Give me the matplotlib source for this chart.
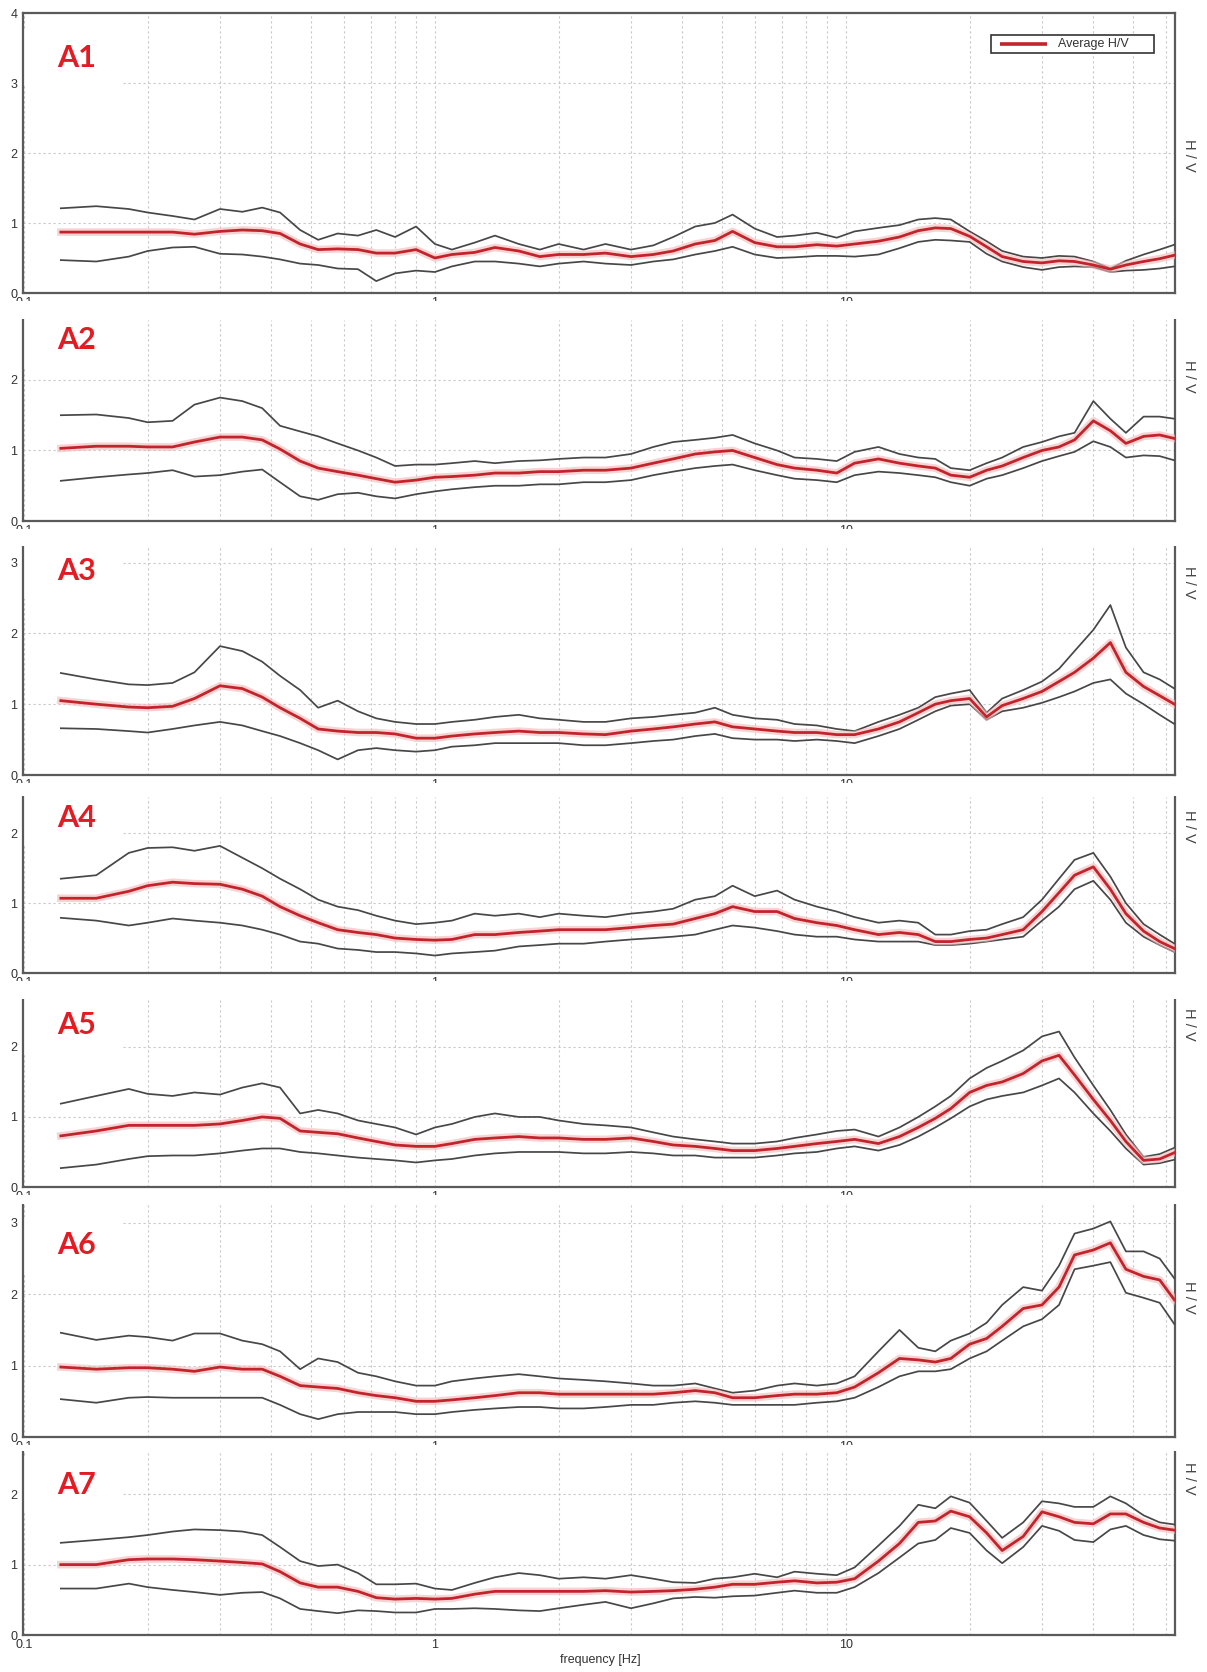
import matplotlib
matplotlib.use('Agg')
import matplotlib.pyplot as plt
from matplotlib.patches import Rectangle

plt.rcParams['font.family'] = ['Liberation Sans', 'DejaVu Sans']

# frequency nodes [Hz] shared by every station curve
freq = [0.123, 0.15, 0.18, 0.2, 0.23, 0.26, 0.3, 0.34, 0.38, 0.42,
        0.47, 0.52, 0.58, 0.65, 0.72, 0.8, 0.9, 1.0, 1.1, 1.25,
        1.4, 1.6, 1.8, 2.0, 2.3, 2.6, 3.0, 3.4, 3.8, 4.3,
        4.8, 5.3, 6.0, 6.8, 7.5, 8.5, 9.5, 10.5, 12, 13.5,
        15, 16.5, 18, 20, 22, 24, 27, 30, 33, 36,
        40, 44, 48, 53, 58, 63]

# A1
a1_mean = [0.87, 0.87, 0.87, 0.87, 0.87, 0.84, 0.88, 0.90, 0.89, 0.85,
           0.70, 0.62, 0.63, 0.62, 0.57, 0.57, 0.62, 0.50, 0.55, 0.58,
           0.65, 0.60, 0.52, 0.55, 0.55, 0.57, 0.52, 0.55, 0.60, 0.70,
           0.75, 0.88, 0.72, 0.66, 0.66, 0.69, 0.67, 0.70, 0.74, 0.80,
           0.89, 0.93, 0.92, 0.81, 0.66, 0.52, 0.45, 0.43, 0.46, 0.45,
           0.40, 0.34, 0.40, 0.45, 0.49, 0.54]
a1_upper = [1.21, 1.24, 1.20, 1.15, 1.10, 1.05, 1.20, 1.16, 1.22, 1.15,
            0.90, 0.76, 0.85, 0.82, 0.90, 0.80, 0.95, 0.70, 0.62, 0.72,
            0.82, 0.70, 0.62, 0.70, 0.62, 0.70, 0.62, 0.68, 0.80, 0.95,
            1.00, 1.12, 0.92, 0.80, 0.82, 0.86, 0.79, 0.88, 0.93, 0.97,
            1.05, 1.07, 1.05, 0.88, 0.74, 0.60, 0.52, 0.50, 0.53, 0.52,
            0.45, 0.35, 0.46, 0.55, 0.62, 0.69]
a1_lower = [0.47, 0.45, 0.52, 0.60, 0.65, 0.66, 0.56, 0.55, 0.52, 0.48,
            0.42, 0.40, 0.35, 0.34, 0.17, 0.28, 0.32, 0.30, 0.38, 0.45,
            0.45, 0.42, 0.38, 0.42, 0.45, 0.42, 0.40, 0.45, 0.48, 0.55,
            0.60, 0.66, 0.55, 0.50, 0.51, 0.53, 0.53, 0.52, 0.55, 0.64,
            0.73, 0.76, 0.75, 0.73, 0.56, 0.45, 0.37, 0.33, 0.37, 0.38,
            0.37, 0.30, 0.32, 0.33, 0.35, 0.38]

# A2
a2_mean = [1.03, 1.06, 1.06, 1.05, 1.05, 1.12, 1.19, 1.19, 1.15, 1.02,
           0.85, 0.75, 0.70, 0.65, 0.60, 0.55, 0.58, 0.62, 0.63, 0.65,
           0.68, 0.68, 0.70, 0.70, 0.72, 0.72, 0.75, 0.82, 0.88, 0.95,
           0.98, 1.00, 0.90, 0.80, 0.75, 0.72, 0.68, 0.82, 0.88, 0.82,
           0.78, 0.75, 0.65, 0.62, 0.72, 0.78, 0.90, 1.00, 1.05, 1.15,
           1.42, 1.28, 1.10, 1.20, 1.22, 1.17]
a2_upper = [1.50, 1.51, 1.46, 1.40, 1.42, 1.65, 1.75, 1.70, 1.60, 1.35,
            1.27, 1.20, 1.10, 1.00, 0.90, 0.78, 0.80, 0.80, 0.82, 0.85,
            0.82, 0.85, 0.86, 0.88, 0.90, 0.90, 0.95, 1.05, 1.12, 1.15,
            1.18, 1.22, 1.10, 1.00, 0.90, 0.88, 0.85, 0.98, 1.05, 0.95,
            0.90, 0.88, 0.75, 0.72, 0.82, 0.90, 1.05, 1.12, 1.20, 1.25,
            1.70, 1.45, 1.25, 1.48, 1.48, 1.45]
a2_lower = [0.57, 0.62, 0.66, 0.68, 0.72, 0.63, 0.65, 0.70, 0.73, 0.55,
            0.35, 0.30, 0.38, 0.40, 0.35, 0.32, 0.38, 0.42, 0.45, 0.48,
            0.50, 0.50, 0.52, 0.52, 0.55, 0.55, 0.58, 0.65, 0.70, 0.75,
            0.78, 0.80, 0.72, 0.65, 0.60, 0.58, 0.55, 0.65, 0.70, 0.68,
            0.65, 0.62, 0.55, 0.50, 0.60, 0.65, 0.75, 0.85, 0.92, 0.98,
            1.13, 1.05, 0.90, 0.93, 0.92, 0.86]

# A3
a3_mean = [1.05, 1.00, 0.96, 0.95, 0.97, 1.08, 1.26, 1.22, 1.10, 0.95,
           0.80, 0.65, 0.62, 0.60, 0.60, 0.58, 0.52, 0.52, 0.55, 0.58,
           0.60, 0.62, 0.60, 0.60, 0.58, 0.57, 0.62, 0.65, 0.68, 0.72,
           0.75, 0.68, 0.65, 0.62, 0.60, 0.60, 0.57, 0.57, 0.65, 0.75,
           0.88, 1.00, 1.05, 1.08, 0.82, 0.98, 1.08, 1.18, 1.32, 1.45,
           1.65, 1.87, 1.45, 1.25, 1.12, 1.00]
a3_upper = [1.44, 1.35, 1.28, 1.27, 1.30, 1.45, 1.82, 1.75, 1.60, 1.40,
            1.20, 0.95, 1.05, 0.90, 0.80, 0.75, 0.72, 0.72, 0.75, 0.78,
            0.82, 0.85, 0.80, 0.78, 0.75, 0.75, 0.80, 0.82, 0.85, 0.88,
            0.95, 0.85, 0.80, 0.78, 0.72, 0.70, 0.65, 0.62, 0.75, 0.85,
            0.95, 1.10, 1.15, 1.20, 0.88, 1.08, 1.20, 1.32, 1.50, 1.75,
            2.05, 2.40, 1.80, 1.45, 1.35, 1.22]
a3_lower = [0.66, 0.65, 0.62, 0.60, 0.65, 0.70, 0.75, 0.70, 0.62, 0.55,
            0.45, 0.35, 0.22, 0.35, 0.38, 0.35, 0.33, 0.35, 0.40, 0.42,
            0.45, 0.45, 0.45, 0.45, 0.42, 0.42, 0.45, 0.48, 0.50, 0.55,
            0.58, 0.52, 0.50, 0.50, 0.48, 0.50, 0.48, 0.45, 0.55, 0.65,
            0.78, 0.90, 0.98, 1.00, 0.78, 0.90, 0.95, 1.02, 1.10, 1.18,
            1.30, 1.35, 1.15, 1.00, 0.85, 0.72]

# A4
a4_mean = [1.07, 1.07, 1.17, 1.25, 1.30, 1.28, 1.27, 1.20, 1.10, 0.95,
           0.82, 0.72, 0.62, 0.58, 0.55, 0.50, 0.48, 0.47, 0.48, 0.55,
           0.55, 0.58, 0.60, 0.62, 0.62, 0.62, 0.65, 0.68, 0.70, 0.78,
           0.85, 0.95, 0.88, 0.88, 0.78, 0.72, 0.68, 0.62, 0.55, 0.58,
           0.55, 0.45, 0.45, 0.48, 0.50, 0.55, 0.62, 0.88, 1.15, 1.40,
           1.52, 1.20, 0.85, 0.60, 0.45, 0.35]
a4_upper = [1.35, 1.40, 1.72, 1.79, 1.80, 1.75, 1.82, 1.65, 1.50, 1.35,
            1.20, 1.05, 0.95, 0.90, 0.82, 0.75, 0.70, 0.72, 0.75, 0.85,
            0.82, 0.85, 0.80, 0.85, 0.82, 0.80, 0.85, 0.88, 0.92, 1.05,
            1.10, 1.25, 1.10, 1.18, 1.05, 0.95, 0.88, 0.80, 0.72, 0.75,
            0.72, 0.55, 0.55, 0.60, 0.62, 0.70, 0.80, 1.05, 1.35, 1.62,
            1.72, 1.38, 1.00, 0.70, 0.55, 0.42]
a4_lower = [0.79, 0.75, 0.68, 0.72, 0.78, 0.75, 0.72, 0.68, 0.62, 0.55,
            0.45, 0.42, 0.35, 0.33, 0.30, 0.30, 0.28, 0.25, 0.28, 0.30,
            0.32, 0.38, 0.40, 0.42, 0.42, 0.45, 0.48, 0.50, 0.52, 0.55,
            0.62, 0.68, 0.65, 0.60, 0.55, 0.52, 0.52, 0.48, 0.45, 0.45,
            0.45, 0.40, 0.40, 0.42, 0.45, 0.48, 0.52, 0.75, 0.95, 1.20,
            1.32, 1.05, 0.72, 0.52, 0.40, 0.30]

# A5
a5_mean = [0.73, 0.80, 0.88, 0.88, 0.88, 0.88, 0.90, 0.95, 1.00, 0.98,
           0.80, 0.78, 0.76, 0.70, 0.65, 0.60, 0.58, 0.58, 0.62, 0.68,
           0.70, 0.72, 0.70, 0.70, 0.68, 0.68, 0.70, 0.65, 0.60, 0.58,
           0.55, 0.52, 0.52, 0.55, 0.58, 0.62, 0.65, 0.68, 0.62, 0.72,
           0.85, 0.98, 1.12, 1.35, 1.45, 1.50, 1.62, 1.80, 1.88, 1.60,
           1.25, 0.95, 0.65, 0.38, 0.40, 0.49]
a5_upper = [1.19, 1.30, 1.40, 1.33, 1.30, 1.35, 1.32, 1.42, 1.48, 1.42,
            1.05, 1.10, 1.05, 0.95, 0.90, 0.85, 0.75, 0.85, 0.90, 1.00,
            1.05, 1.00, 1.00, 0.95, 0.90, 0.88, 0.85, 0.78, 0.72, 0.68,
            0.65, 0.62, 0.62, 0.65, 0.70, 0.75, 0.80, 0.82, 0.72, 0.85,
            1.00, 1.15, 1.30, 1.55, 1.70, 1.80, 1.95, 2.15, 2.22, 1.85,
            1.45, 1.10, 0.75, 0.43, 0.47, 0.56]
a5_lower = [0.27, 0.32, 0.40, 0.44, 0.45, 0.45, 0.48, 0.52, 0.55, 0.55,
            0.50, 0.48, 0.45, 0.42, 0.40, 0.38, 0.35, 0.38, 0.40, 0.45,
            0.48, 0.50, 0.50, 0.50, 0.48, 0.48, 0.50, 0.48, 0.45, 0.45,
            0.42, 0.42, 0.42, 0.45, 0.48, 0.50, 0.55, 0.58, 0.52, 0.60,
            0.72, 0.85, 0.98, 1.15, 1.25, 1.30, 1.35, 1.45, 1.55, 1.35,
            1.05, 0.80, 0.55, 0.32, 0.34, 0.39]

# A6
a6_mean = [0.98, 0.95, 0.97, 0.97, 0.95, 0.92, 0.98, 0.95, 0.95, 0.85,
           0.72, 0.70, 0.68, 0.62, 0.58, 0.55, 0.50, 0.50, 0.52, 0.55,
           0.58, 0.62, 0.62, 0.60, 0.60, 0.60, 0.60, 0.60, 0.62, 0.65,
           0.62, 0.55, 0.55, 0.58, 0.60, 0.60, 0.62, 0.70, 0.90, 1.10,
           1.08, 1.05, 1.10, 1.30, 1.38, 1.55, 1.80, 1.85, 2.10, 2.55,
           2.62, 2.72, 2.35, 2.25, 2.20, 1.92]
a6_upper = [1.46, 1.36, 1.42, 1.40, 1.35, 1.45, 1.45, 1.35, 1.30, 1.20,
            0.95, 1.10, 1.05, 0.90, 0.85, 0.78, 0.72, 0.72, 0.78, 0.82,
            0.85, 0.88, 0.85, 0.82, 0.80, 0.78, 0.75, 0.72, 0.72, 0.75,
            0.68, 0.62, 0.65, 0.72, 0.75, 0.72, 0.75, 0.85, 1.20, 1.50,
            1.25, 1.20, 1.35, 1.45, 1.60, 1.85, 2.10, 2.05, 2.40, 2.85,
            2.92, 3.02, 2.60, 2.60, 2.50, 2.22]
a6_lower = [0.53, 0.48, 0.55, 0.56, 0.55, 0.55, 0.55, 0.55, 0.55, 0.45,
            0.32, 0.25, 0.32, 0.35, 0.35, 0.35, 0.32, 0.32, 0.35, 0.38,
            0.40, 0.42, 0.42, 0.40, 0.40, 0.42, 0.45, 0.45, 0.48, 0.50,
            0.48, 0.45, 0.45, 0.45, 0.45, 0.48, 0.50, 0.55, 0.70, 0.85,
            0.92, 0.92, 0.95, 1.10, 1.20, 1.35, 1.55, 1.65, 1.85, 2.35,
            2.40, 2.45, 2.02, 1.95, 1.88, 1.58]

# A7
a7_mean = [1.00, 1.00, 1.07, 1.08, 1.08, 1.07, 1.05, 1.03, 1.01, 0.90,
           0.74, 0.68, 0.68, 0.62, 0.53, 0.51, 0.52, 0.51, 0.52, 0.58,
           0.62, 0.62, 0.62, 0.62, 0.62, 0.63, 0.61, 0.62, 0.63, 0.65,
           0.68, 0.72, 0.72, 0.75, 0.77, 0.74, 0.75, 0.80, 1.05, 1.30,
           1.60, 1.62, 1.76, 1.68, 1.45, 1.20, 1.40, 1.75, 1.68, 1.60,
           1.58, 1.72, 1.72, 1.60, 1.52, 1.49]
a7_upper = [1.31, 1.35, 1.39, 1.42, 1.47, 1.50, 1.49, 1.47, 1.42, 1.25,
            1.05, 0.98, 1.00, 0.88, 0.72, 0.72, 0.73, 0.66, 0.64, 0.74,
            0.82, 0.88, 0.85, 0.80, 0.82, 0.80, 0.85, 0.80, 0.75, 0.74,
            0.80, 0.82, 0.87, 0.82, 0.90, 0.87, 0.85, 0.96, 1.27, 1.55,
            1.85, 1.80, 1.97, 1.88, 1.62, 1.38, 1.60, 1.90, 1.87, 1.82,
            1.82, 1.97, 1.87, 1.70, 1.60, 1.57]
a7_lower = [0.66, 0.66, 0.73, 0.68, 0.64, 0.61, 0.57, 0.60, 0.61, 0.52,
            0.37, 0.34, 0.31, 0.35, 0.34, 0.32, 0.32, 0.37, 0.37, 0.38,
            0.37, 0.35, 0.34, 0.38, 0.43, 0.47, 0.38, 0.45, 0.52, 0.54,
            0.53, 0.55, 0.56, 0.60, 0.63, 0.60, 0.60, 0.68, 0.88, 1.10,
            1.30, 1.35, 1.52, 1.45, 1.20, 1.02, 1.25, 1.55, 1.48, 1.35,
            1.32, 1.50, 1.55, 1.42, 1.36, 1.34]

stations = ['A1', 'A2', 'A3', 'A4', 'A5', 'A6', 'A7']
means = [a1_mean, a2_mean, a3_mean, a4_mean, a5_mean, a6_mean, a7_mean]
uppers = [a1_upper, a2_upper, a3_upper, a4_upper, a5_upper, a6_upper, a7_upper]
lowers = [a1_lower, a2_lower, a3_lower, a4_lower, a5_lower, a6_lower, a7_lower]
y_tops = [4.0, 2.85, 3.22, 2.52, 2.67, 3.25, 2.6]

# panel placement in pixels (top, bottom), station label and H/V label heights
W, H = 1207, 1672
LEFT, RIGHT = 23, 1175
panel_px = [(13, 293), (320, 521), (547, 775), (797, 973),
            (1000, 1187), (1205, 1437), (1452, 1635)]
name_y = [58, 340, 571, 818, 1025, 1245, 1485]
hv_y = [155, 376, 582, 826, 1024, 1297, 1478]

RED = '#c3242c'
GREY = '#474747'
SPINE = '#5a5a5a'

fig = plt.figure(figsize=(W / 100, H / 100), dpi=100)

for i, name in enumerate(stations):
    top, bot = panel_px[i]
    hgt = bot - top
    ax = fig.add_axes([LEFT / W, 1 - bot / H, (RIGHT - LEFT) / W, hgt / H])
    ax.set_xscale('log')
    ax.set_xlim(0.0995, 63.2)
    ax.set_ylim(0, y_tops[i])
    ax.set_yticks(range(0, int(y_tops[i]) + 1))
    ax.set_xticks([0.1, 1, 10])
    ax.set_xticklabels(['0.1', '1', '10'])
    ax.tick_params(which='both', length=0, labelsize=9, colors='#333333', pad=3)
    ax.tick_params(axis='y', pad=4)
    ax.grid(which='both', axis='x', color='#c8c8c8', lw=0.8, ls=(0, (2, 2.5)))
    ax.grid(which='major', axis='y', color='#c8c8c8', lw=0.8, ls=(0, (2, 2.5)))

    for side in ['left', 'right', 'bottom', 'top']:
        ax.spines[side].set_color(SPINE)
        ax.spines[side].set_linewidth(1.6)
    if i > 0:
        ax.spines['top'].set_visible(False)

    # white block behind the station name
    ax.add_patch(Rectangle((0, (bot - name_y[i] - 28) / hgt), 100 / (RIGHT - LEFT), 56 / hgt,
                           transform=ax.transAxes, facecolor='white', edgecolor='none',
                           zorder=1.8, clip_on=True))

    ax.plot(freq, uppers[i], color=GREY, lw=1.25, zorder=3)
    ax.plot(freq, lowers[i], color=GREY, lw=1.25, zorder=3)
    ax.plot(freq, means[i], color='#f3b8b8', lw=5.5, alpha=0.6, zorder=3.5,
            solid_joinstyle='round')
    ax.plot(freq, means[i], color=RED, lw=2.0, zorder=4)

    ax.text((57 - LEFT) / (RIGHT - LEFT), (bot - name_y[i]) / hgt, name,
            transform=ax.transAxes, ha='left', va='center', fontsize=22,
            fontweight='bold', family=['Lato', 'DejaVu Sans'], color='#e31b23', zorder=5)

    fig.text(1189 / W, 1 - hv_y[i] / H, 'H / V', rotation=-90, ha='center', va='center',
             fontsize=10.5, color='#444444')

    if i == 0:
        # legend box
        w = RIGHT - LEFT
        ax.add_patch(Rectangle(((991 - LEFT) / w, (bot - 53) / hgt), 163 / w, 18 / hgt,
                               transform=ax.transAxes, facecolor='white',
                               edgecolor='#333333', lw=1.2, zorder=6))
        ly = (bot - 44) / hgt
        ax.plot([(1000 - LEFT) / w, (1047 - LEFT) / w], [ly, ly], transform=ax.transAxes,
                color=RED, lw=2.6, zorder=7, solid_capstyle='butt')
        ax.text((1058 - LEFT) / w, ly, 'Average H/V', transform=ax.transAxes,
                ha='left', va='center', fontsize=9, color='#333333', zorder=7)

    if i < len(stations) - 1:
        # hide all but the top sliver of the frequency labels between panels
        nxt = panel_px[i + 1][0]
        fig.add_artist(Rectangle((0, 1 - (nxt - 1) / H), 1, (nxt - 1 - (bot + 8)) / H,
                                 transform=fig.transFigure, facecolor='white',
                                 edgecolor='none', zorder=5))

fig.text(600 / W, 1 - 1660 / H, 'frequency [Hz]', ha='center', va='center',
         fontsize=9, color='#333333')

fig.savefig('out.png', dpi=100, facecolor='white')
